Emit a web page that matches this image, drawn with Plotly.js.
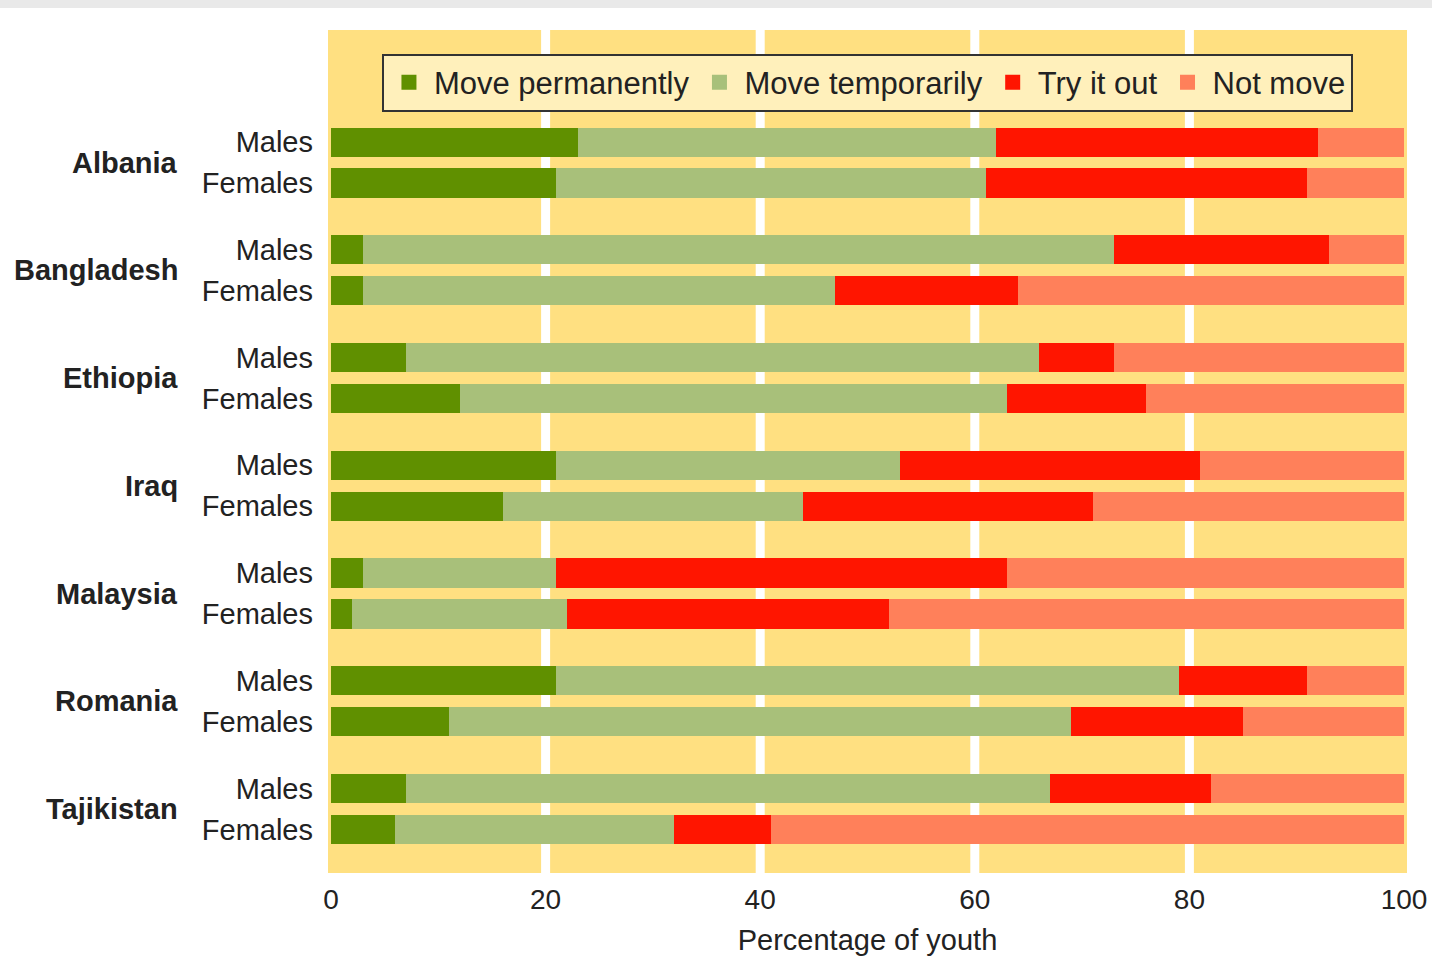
<!DOCTYPE html>
<html>
<head>
<meta charset="utf-8">
<script src="https://cdn.plot.ly/plotly-3.0.1.min.js"></script>
<style>html,body{margin:0;padding:0;background:#fff;}#chart{width:1432px;height:956px;}</style>
</head>
<body>
<div id="chart"></div>
<script>
// Data (rows: each country, Males then Females)
var countries = ['Albania', 'Bangladesh', 'Ethiopia', 'Iraq', 'Malaysia', 'Romania', 'Tajikistan'];
var genders = ['Males', 'Females'];
var seriesNames = ['Move permanently', 'Move temporarily', 'Try it out', 'Not move'];
var movePermanently = [23, 21, 3, 3, 7, 12, 21, 16, 3, 2, 21, 11, 7, 6];
var moveTemporarily = [39, 40, 70, 44, 59, 51, 32, 28, 18, 20, 58, 58, 60, 26];
var tryItOut        = [30, 30, 20, 17, 7, 13, 28, 27, 42, 30, 12, 16, 15, 9];
var notMove         = [8, 9, 7, 36, 27, 24, 19, 29, 37, 48, 9, 15, 18, 59];
var xTicks = [0, 20, 40, 60, 80, 100];
var xTitle = 'Percentage of youth';

// Layout helpers
var colors = ['#609000', '#A8C07A', '#FF1500', '#FF805A'];
var half = 0.19;
var yPos = [], yText = [];
countries.forEach(function (c, g) {
  genders.forEach(function (s, k) {
    yPos.push(g + (k === 0 ? -half : half));
    yText.push(s);
  });
});

var seriesValues = [movePermanently, moveTemporarily, tryItOut, notMove];
var traces = seriesValues.map(function (vals, i) {
  return {
    type: 'bar',
    orientation: 'h',
    name: seriesNames[i],
    legendgroup: 'g' + i,
    showlegend: false,
    x: vals,
    y: yPos,
    width: 0.27,
    marker: {color: colors[i], line: {width: 0}},
    hoverinfo: 'skip'
  };
});
// legend entries (square keys)
seriesNames.forEach(function (n, i) {
  traces.push({
    type: 'scatter',
    mode: 'markers',
    name: n,
    legendgroup: 'g' + i,
    x: [null], y: [null],
    marker: {symbol: 'square', size: 15, color: colors[i]},
    hoverinfo: 'skip'
  });
});

var font = 'Liberation Sans, Arial, sans-serif';
var annotations = countries.map(function (c, g) {
  return {
    text: '<b>' + c + '</b>',
    xref: 'paper', yref: 'y',
    x: -0.1373, y: g,
    xanchor: 'right', yanchor: 'middle',
    showarrow: false,
    font: {family: font, size: 29, color: '#222'}
  };
});

var shapes = [20, 40, 60, 80].map(function (v) {
  return {
    type: 'line', xref: 'x', yref: 'paper',
    x0: v, x1: v, y0: 0, y1: 1,
    line: {color: '#ffffff', width: 9},
    layer: 'below'
  };
});
// top grey strip of the screenshot
shapes.push({
  type: 'rect', xref: 'paper', yref: 'paper',
  x0: -0.31, x1: 1.03, y0: 1 + 22 / 843, y1: 1 + 31 / 843,
  fillcolor: '#E9E9E9', line: {width: 0}, layer: 'below'
});

var layout = {
  width: 1432, height: 956,
  margin: {l: 328, r: 25, t: 30, b: 83},
  paper_bgcolor: '#ffffff',
  plot_bgcolor: '#FFE081',
  barmode: 'stack',
  bargap: 0,
  font: {family: font, color: '#222'},
  showlegend: true,
  legend: {
    orientation: 'h',
    x: 0.05, y: 0.972,
    xanchor: 'left', yanchor: 'top',
    bgcolor: '#FFF0BB',
    bordercolor: '#333333',
    borderwidth: 2,
    itemwidth: 40,
    font: {family: font, size: 31, color: '#222'},
    traceorder: 'normal'
  },
  xaxis: {
    range: [-0.28, 100.28],
    tickvals: xTicks,
    ticktext: xTicks.map(String),
    showgrid: false,
    zeroline: false,
    showline: false,
    ticks: '',
    ticklabelstandoff: 7,
    tickfont: {family: font, size: 28, color: '#222'},
    title: {text: xTitle, standoff: 15, font: {family: font, size: 29, color: '#222'}},
    fixedrange: true
  },
  yaxis: {
    range: [6.594, -1.23],
    tickvals: yPos,
    ticktext: yText,
    showgrid: false,
    zeroline: false,
    showline: false,
    ticks: '',
    ticklabelstandoff: 14,
    tickfont: {family: font, size: 29, color: '#222'},
    fixedrange: true
  },
  annotations: annotations,
  shapes: shapes
};

Plotly.newPlot('chart', traces, layout, {displayModeBar: false, staticPlot: true});
</script>
</body>
</html>
